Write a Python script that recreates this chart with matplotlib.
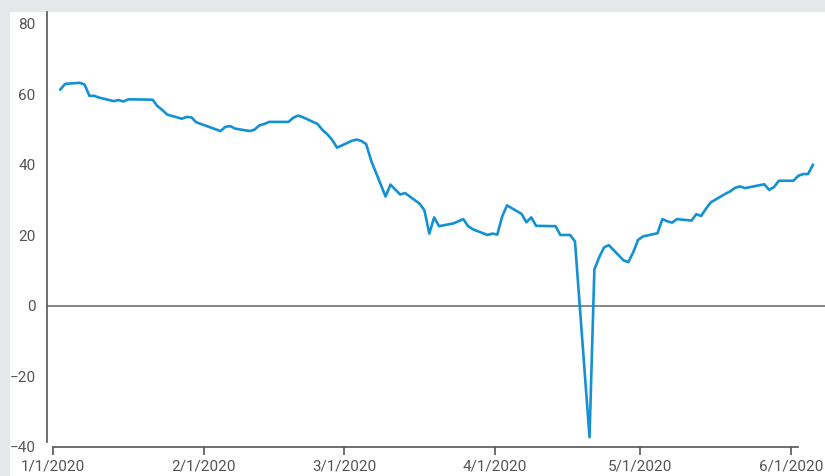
import datetime as dt
import matplotlib
matplotlib.use("Agg")
import matplotlib.pyplot as plt
import matplotlib.dates as mdates
from matplotlib.patches import Rectangle

# daily closing price
dates = [
    "2020-01-02", "2020-01-03", "2020-01-06", "2020-01-07", "2020-01-08", "2020-01-09", "2020-01-10",
    "2020-01-13", "2020-01-14", "2020-01-15", "2020-01-16", "2020-01-17", "2020-01-21", "2020-01-22",
    "2020-01-23", "2020-01-24", "2020-01-27", "2020-01-28", "2020-01-29", "2020-01-30", "2020-01-31",
    "2020-02-03", "2020-02-04", "2020-02-05", "2020-02-06", "2020-02-07", "2020-02-10", "2020-02-11",
    "2020-02-12", "2020-02-13", "2020-02-14", "2020-02-18", "2020-02-19", "2020-02-20", "2020-02-21",
    "2020-02-24", "2020-02-25", "2020-02-26", "2020-02-27", "2020-02-28", "2020-03-02", "2020-03-03",
    "2020-03-04", "2020-03-05", "2020-03-06", "2020-03-09", "2020-03-10", "2020-03-11", "2020-03-12",
    "2020-03-13", "2020-03-16", "2020-03-17", "2020-03-18", "2020-03-19", "2020-03-20", "2020-03-23",
    "2020-03-24", "2020-03-25", "2020-03-26", "2020-03-27", "2020-03-30", "2020-03-31", "2020-04-01",
    "2020-04-02", "2020-04-03", "2020-04-06", "2020-04-07", "2020-04-08", "2020-04-09", "2020-04-13",
    "2020-04-14", "2020-04-15", "2020-04-16", "2020-04-17", "2020-04-20", "2020-04-21", "2020-04-22",
    "2020-04-23", "2020-04-24", "2020-04-27", "2020-04-28", "2020-04-29", "2020-04-30", "2020-05-01",
    "2020-05-04", "2020-05-05", "2020-05-06", "2020-05-07", "2020-05-08", "2020-05-11", "2020-05-12",
    "2020-05-13", "2020-05-14", "2020-05-15", "2020-05-18", "2020-05-19", "2020-05-20", "2020-05-21",
    "2020-05-22", "2020-05-26", "2020-05-27", "2020-05-28", "2020-05-29", "2020-06-01", "2020-06-02",
    "2020-06-03", "2020-06-04", "2020-06-05",
]
prices = [
    61.4, 63.0, 63.3, 62.8, 59.6, 59.6, 59.1,
    58.1, 58.4, 58.0, 58.6, 58.6, 58.5, 56.7,
    55.6, 54.3, 53.1, 53.6, 53.5, 52.1, 51.6,
    50.1, 49.6, 50.8, 51.0, 50.3, 49.6, 50.0,
    51.2, 51.6, 52.2, 52.2, 53.4, 54.0, 53.5,
    51.6, 49.9, 48.7, 47.1, 44.9, 46.8, 47.2,
    46.8, 45.9, 41.3, 31.0, 34.4, 33.0, 31.6,
    32.0, 29.0, 27.1, 20.5, 25.1, 22.6, 23.4,
    24.0, 24.6, 22.6, 21.7, 20.1, 20.5, 20.2,
    25.3, 28.5, 26.1, 23.7, 25.1, 22.7, 22.6,
    20.1, 20.1, 20.1, 18.3, -37.3, 10.3, 13.8,
    16.6, 17.2, 12.9, 12.4, 15.2, 18.7, 19.7,
    20.6, 24.6, 24.0, 23.6, 24.6, 24.2, 26.0,
    25.5, 27.6, 29.4, 31.8, 32.5, 33.5, 33.9,
    33.4, 34.5, 32.9, 33.7, 35.5, 35.5, 36.9,
    37.4, 37.4, 40.0,
]
tick_dates = ["2020-01-01", "2020-02-01", "2020-03-01", "2020-04-01", "2020-05-01", "2020-06-01"]
tick_labels = ["1/1/2020", "2/1/2020", "3/1/2020", "4/1/2020", "5/1/2020", "6/1/2020"]
y_ticks = [-40, -20, 0, 20, 40, 60, 80]

plt.rcParams['font.family'] = ['Roboto', 'DejaVu Sans']

# closes are stamped at midday
x = [mdates.date2num(dt.datetime.fromisoformat(d + "T12:00")) for d in dates]
xt = [mdates.date2num(dt.date.fromisoformat(d)) for d in tick_dates]

W, H = 825, 476
fig = plt.figure(figsize=(W / 100, H / 100), dpi=100)
fig.patch.set_facecolor('#e6e7e8')
fig.patches.append(Rectangle((10 / W, 0), 1 - 10 / W, 1 - 12 / H, transform=fig.transFigure,
                             facecolor='white', edgecolor='none', zorder=-10))

ax = fig.add_axes([46.5 / W, 1 - 446.7 / H, 1 - 46.5 / W, (446.7 - 12) / H])
ax.set_zorder(1)
ax.set_facecolor('none')

ax.axhline(0, color='#666666', lw=1.1, zorder=1)
ax.plot(x, prices, color='#1491d2', lw=1.9, zorder=2, solid_joinstyle='round')

ax.set_xlim(xt[0] - 1.34, xt[0] + 159)
ax.set_ylim(-40, 83.4)

ax.set_xticks(xt)
ax.set_xticklabels(tick_labels)
ax.set_yticks(y_ticks)
ax.set_yticklabels([str(v).replace('-', '\u2212') for v in y_ticks])

for s in ['top', 'right']:
    ax.spines[s].set_visible(False)
ax.spines['left'].set_color('#555555')
ax.spines['left'].set_linewidth(1.2)
ax.spines['left'].set_bounds(-38.8, 83.4)
ax.spines['bottom'].set_color('#555555')
ax.spines['bottom'].set_linewidth(1.2)
ax.spines['bottom'].set_bounds(xt[0], xt[0] + 153.4)

ax.tick_params(axis='x', length=6, width=1.2, color='#555555', pad=3,
               labelsize=11, labelcolor='#555555')
ax.tick_params(axis='y', length=0, pad=8, labelsize=11, labelcolor='#555555')

fig.savefig('out.png', dpi=100, facecolor=fig.get_facecolor())
